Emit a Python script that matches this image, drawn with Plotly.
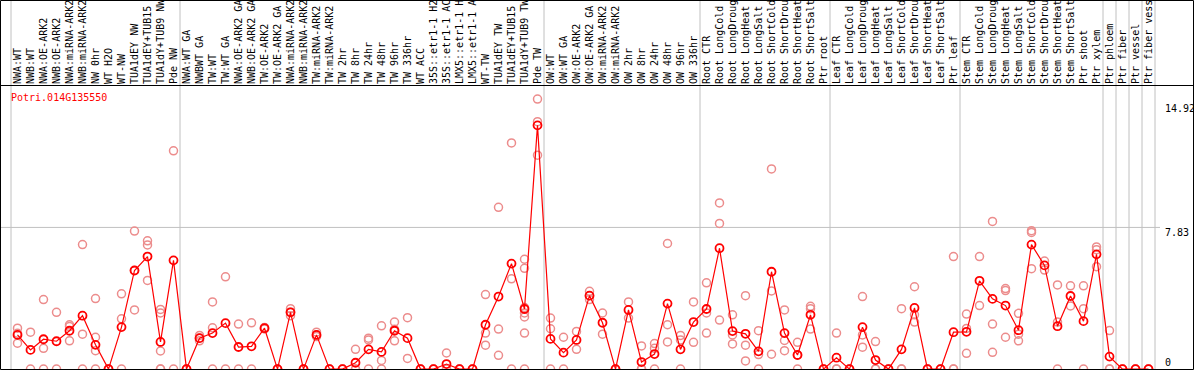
import plotly.graph_objects as go

title = "Potri.014G135550"

labels = [
    "NWA:WT", "NWB:WT", "NWA:OE-ARK2", "NWB:OE-ARK2", "NWA:miRNA-ARK2", "NWB:miRNA-ARK2",
    "NW 0hr", "WT H2O", "WT-NW", "TUA1dEY NW", "TUA1dEY+TUB15", "TUA1dY+TUB9 NW", "Pde NW",
    "NWA:WT GA", "NWBWT GA", "TW:WT", "TW:WT GA", "NWA:OE-ARK2 GA", "NWB:OE-ARK2 GA",
    "TW:OE-ARK2", "TW:OE-ARK2 GA", "NWA:miRNA-ARK2", "NWB:miRNA-ARK2", "TW:miRNA-ARK2",
    "TW:miRNA-ARK2", "TW 2hr", "TW 8hr", "TW 24hr", "TW 48hr", "TW 96hr", "TW 336hr",
    "WT ACC", "35S::etr1-1 H2", "35S::etr1-1 AC", "LMX5::etr1-1 H", "LMX5::etr1-1 A",
    "WT-TW", "TUA1dEY TW", "TUA1dEY+TUB15", "TUA1dY+TUB9 TW", "Pde TW",
    "OW:WT", "OW:WT GA", "OW:OE-ARK2", "OW:OE-ARK2 GA", "OW:miRNA-ARK2", "OW:miRNA-ARK2",
    "OW 2hr", "OW 8hr", "OW 24hr", "OW 48hr", "OW 96hr", "OW 336hr",
    "Root CTR", "Root LongCold", "Root LongDroug", "Root LongHeat", "Root LongSalt",
    "Root ShortCold", "Root ShortDrou", "Root ShortHeat", "Root ShortSalt", "Ptr root",
    "Leaf CTR", "Leaf LongCold", "Leaf LongDroug", "Leaf LongHeat", "Leaf LongSalt",
    "Leaf ShortCold", "Leaf ShortDrou", "Leaf ShortHeat", "Leaf ShortSalt", "Ptr leaf",
    "Stem CTR", "Stem LongCold", "Stem LongDroug", "Stem LongHeat", "Stem LongSalt",
    "Stem ShortCold", "Stem ShortDrou", "Stem ShortHeat", "Stem ShortSalt", "Ptr shoot",
    "Ptr xylem", "Ptr phloem", "Ptr fiber", "Ptr vessel", "Ptr fiber vess",
]

means = [
    1.89, 1.06, 1.65, 1.54, 2.12, 2.95, 1.34, 0, 2.32, 5.45, 6.22, 1.50, 6.01,
    0, 1.71, 1.99, 2.54, 1.22, 1.26, 2.26, 0, 3.14, 0, 1.89, 0, 0, 0.35, 1.09, 0.95,
    2.12, 1.71, 0, 0, 0.28, 0, 0, 2.45, 4.01, 5.83, 3.32, 13.47,
    1.67, 0.91, 1.61, 4.06, 2.56, 0, 3.27, 0.39, 0.83, 3.62, 1.09, 2.60,
    3.32, 6.68, 2.10, 1.95, 0.98, 5.38, 1.99, 0.78, 3.00, 0,
    0.63, 0, 2.32, 0.50, 0, 1.09, 3.38, 0, 0, 2.04,
    2.06, 4.88, 3.88, 3.51, 2.15, 6.88, 5.73, 2.37, 4.04, 2.65, 6.34,
    0.69, 0, 0, 0,
]

replicates = [
    [2.26, 1.43, 1.98], [2.04, 0], [3.84, 1.15, 0], [3.14, 0], [2.45, 1.56, 2.35],
    [6.88, 1.93, 0], [3.90, 1.76, 1.02, 0], [0, 0], [4.16, 2.78, 0], [7.63, 3.27, 5.45],
    [7.09, 6.86, 4.90], [3.30, 3.10, 1.00, 0, 0], [12.06, 0],
    [0, 0], [1.86, 1.56, 1.71], [3.71, 2.28, 0], [5.10, 0], [2.49, 0], [2.56, 0],
    [2.30, 2.22], [0, 0], [3.34, 3.14, 2.95], [0, 0], [2.04, 1.89, 1.80], [0, 0], [0, 0],
    [1.09, 0, 0], [1.71, 1.61, 0], [2.39, 0.48, 0], [2.60, 1.56, 2.20], [2.84, 0.59],
    [0, 0], [0, 0], [0.89, 0, 0], [0, 0], [0, 0], [4.12, 1.99, 1.32], [8.94, 2.21, 0.76],
    [12.50, 4.99, 0], [6.07, 5.57, 3.40, 3.10, 2.88, 1.99, 0], [14.92, 11.82, 13.67],
    [2.82, 2.23, 0], [1.76, 0], [2.08, 1.09], [4.30, 4.06, 3.84], [3.10, 1.93], [0, 0],
    [3.71, 2.82], [1.28, 0, 0], [1.41, 1.15, 0], [6.94, 2.45, 1.50], [1.86, 1.61, 0],
    [3.71, 1.48],
    [4.77, 3.10, 1.99], [9.18, 8.05, 2.71], [3.00, 1.89, 1.39], [4.06, 1.32, 0.45],
    [2.12, 0.80, 0], [11.06, 4.32, 0.82], [3.27, 1.58, 1.02], [1.48, 0.78, 0],
    [3.47, 3.34, 2.21], [0, 0],
    [1.99, 0, 0], [0, 0], [4.01, 1.89, 1.21], [1.52, 0, 0], [0, 0], [3.34, 0, 0],
    [4.55, 3.00, 2.60], [0, 0], [0, 0], [6.22, 0, 0],
    [3.04, 2.25, 0.87], [6.22, 3.51], [8.16, 2.49, 0.93], [4.45, 4.34, 1.76],
    [3.08, 1.93, 1.56], [7.65, 7.55, 5.55], [5.97, 5.47], [4.65, 2.60, 0],
    [4.60, 3.49], [4.60, 3.34, 0], [6.75, 5.66, 6.60],
    [2.13, 0, 0], [0, 0], [0, 0], [0, 0],
]

group_boundaries = [-0.5, 12.5, 40.5, 52.5, 62.5, 72.5, 83.5, 84.5, 85.5, 86.5, 87.5]
y_labels = ["14.92", "7.83", "0"]
y_label_values = [14.92, 7.83, 0]

W, H = 1194, 370
TOP = 85
PLOT_H = H - TOP
X_MIN, X_MAX = -17.5 / 13, -17.5 / 13 + W / 13
FONT = "DejaVu Sans Mono"

x_idx = list(range(len(labels)))
rep_x, rep_y = [], []
for i, reps in enumerate(replicates):
    for v in reps:
        rep_x.append(i)
        rep_y.append(v)

fig = go.Figure()
fig.add_trace(go.Scatter(
    x=rep_x, y=rep_y, mode="markers",
    marker=dict(symbol="circle-open", size=8, color="rgb(236,140,140)",
                line=dict(width=1.5, color="rgb(236,140,140)")),
    hoverinfo="skip", showlegend=False))
fig.add_trace(go.Scatter(
    x=x_idx, y=means, mode="lines+markers",
    line=dict(color="#ff0000", width=1.2),
    marker=dict(symbol="circle-open", size=8, color="#ff0000",
                line=dict(width=1.8, color="#ff0000")),
    hoverinfo="skip", showlegend=False))

shapes = []
def xpaper(v):
    return (v - X_MIN) / (X_MAX - X_MIN)

top_paper = (H - 0.5) / PLOT_H
for b in group_boundaries:
    shapes.append(dict(type="line", xref="paper", yref="paper",
                       x0=xpaper(b), x1=xpaper(b), y0=0, y1=top_paper,
                       line=dict(color="#c0c0c0", width=1), layer="below"))
shapes.append(dict(type="line", xref="paper", yref="y", x0=0, x1=1160 / W,
                   y0=7.83, y1=7.83, line=dict(color="#c0c0c0", width=1), layer="below"))
shapes.append(dict(type="rect", xref="paper", yref="paper",
                   x0=0.5 / W, x1=1 - 0.5 / W, y0=0.5 / PLOT_H, y1=top_paper,
                   line=dict(color="black", width=1)))
shapes.append(dict(type="line", xref="paper", yref="paper",
                   x0=0, x1=1, y0=1 - 0.5 / PLOT_H, y1=1 - 0.5 / PLOT_H,
                   line=dict(color="black", width=1)))

annotations = [dict(text=title, xref="paper", yref="paper", x=9 / W, y=(H - 97) / PLOT_H,
                    xanchor="left", yanchor="middle", showarrow=False,
                    font=dict(family=FONT, size=10, color="#ff0000"))]
shifts = [-9, -5, 7]
for t, v, s in zip(y_labels, y_label_values, shifts):
    annotations.append(dict(text=t, xref="paper", yref="y", x=1163 / W, y=v, yshift=s,
                            xanchor="left", yanchor="middle", showarrow=False,
                            font=dict(family=FONT, size=10, color="black")))

fig.update_layout(
    width=W, height=H,
    margin=dict(l=0, r=0, t=TOP, b=0, pad=0),
    paper_bgcolor="white", plot_bgcolor="white",
    shapes=shapes, annotations=annotations,
    xaxis=dict(range=[X_MIN, X_MAX], side="top", tickmode="array", tickvals=x_idx,
               ticktext=labels, tickangle=-90, ticks="", showgrid=False, zeroline=False,
               showline=False, automargin=False,
               tickfont=dict(family=FONT, size=10, color="black")),
    yaxis=dict(range=[-0.05, 15.7], showgrid=False, zeroline=False, showticklabels=False,
               ticks="", showline=False, automargin=False),
)

fig.write_html("out.html", config={"displayModeBar": False},
               post_script="document.body.style.margin='0';document.body.style.overflow='hidden';")
